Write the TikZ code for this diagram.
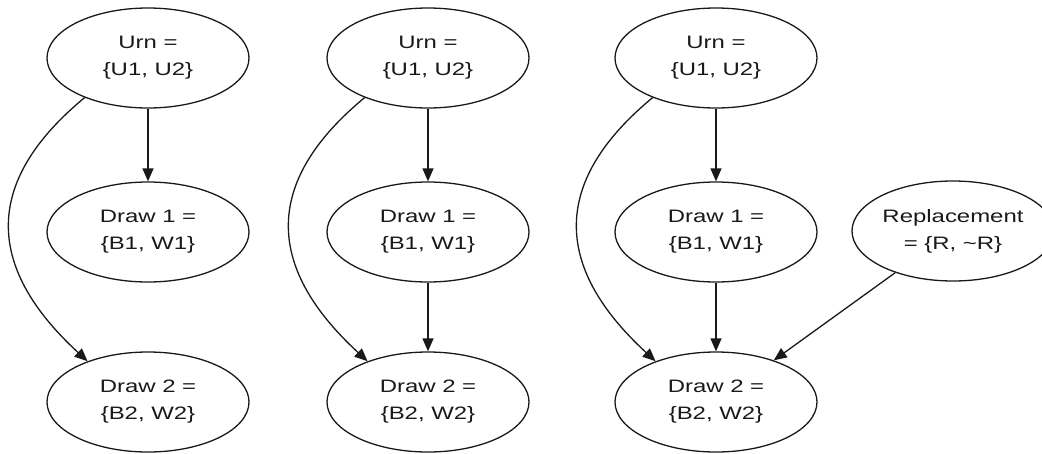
\documentclass[tikz,border=0pt]{standalone}
\usepackage{fontspec}
\setmainfont{Liberation Sans}
\usepackage{graphicx}
\usetikzlibrary{shapes.geometric,arrows.meta}
\newcommand\wtx[1]{\scalebox{1.33}[1]{#1}}
\begin{document}
\begin{tikzpicture}[x=1pt,y=-1pt,
  el/.style={ellipse,draw=black!90,line width=1.3pt,minimum width=202pt,minimum height=100pt,
    inner sep=0pt,align=center,font=\fontsize{18}{27}\selectfont,text=black!90},
  arr/.style={-{Triangle[length=13pt,width=11pt]},line width=1.3pt,draw=black!90}]
\useasboundingbox (0,0) rectangle (1042,453);
\clip (0,0) rectangle (1042,453);
% diagram 1
\node[el] (ua) at (148,58) {\wtx{Urn =}\\\wtx{\{U1, U2\}}};
\node[el] (da) at (148,232) {\wtx{Draw 1 =}\\\wtx{\{B1, W1\}}};
\node[el] (ea) at (148,402) {\wtx{Draw 2 =}\\\wtx{\{B2, W2\}}};
\draw[arr] (ua) -- (da);
\draw[arr] (ua.212) .. controls (-15,180) and (-17,265) .. (ea.146);
% diagram 2
\node[el] (ub) at (428,58) {\wtx{Urn =}\\\wtx{\{U1, U2\}}};
\node[el] (db) at (428,232) {\wtx{Draw 1 =}\\\wtx{\{B1, W1\}}};
\node[el] (eb) at (428,402) {\wtx{Draw 2 =}\\\wtx{\{B2, W2\}}};
\draw[arr] (ub) -- (db);
\draw[arr] (db) -- (eb);
\draw[arr] (ub.212) .. controls (265,180) and (263,265) .. (eb.146);
% diagram 3
\node[el] (uc) at (716,58) {\wtx{Urn =}\\\wtx{\{U1, U2\}}};
\node[el] (dc) at (716,232) {\wtx{Draw 1 =}\\\wtx{\{B1, W1\}}};
\node[el] (ec) at (716,402) {\wtx{Draw 2 =}\\\wtx{\{B2, W2\}}};
\node[el] (rc) at (953,231) {\wtx{Replacement}\\\wtx{= \{R, \textasciitilde R\}}};
\draw[arr] (uc) -- (dc);
\draw[arr] (dc) -- (ec);
\draw[arr] (rc) -- (ec);
\draw[arr] (uc.212) .. controls (553,180) and (551,265) .. (ec.146);
\end{tikzpicture}
\end{document}
